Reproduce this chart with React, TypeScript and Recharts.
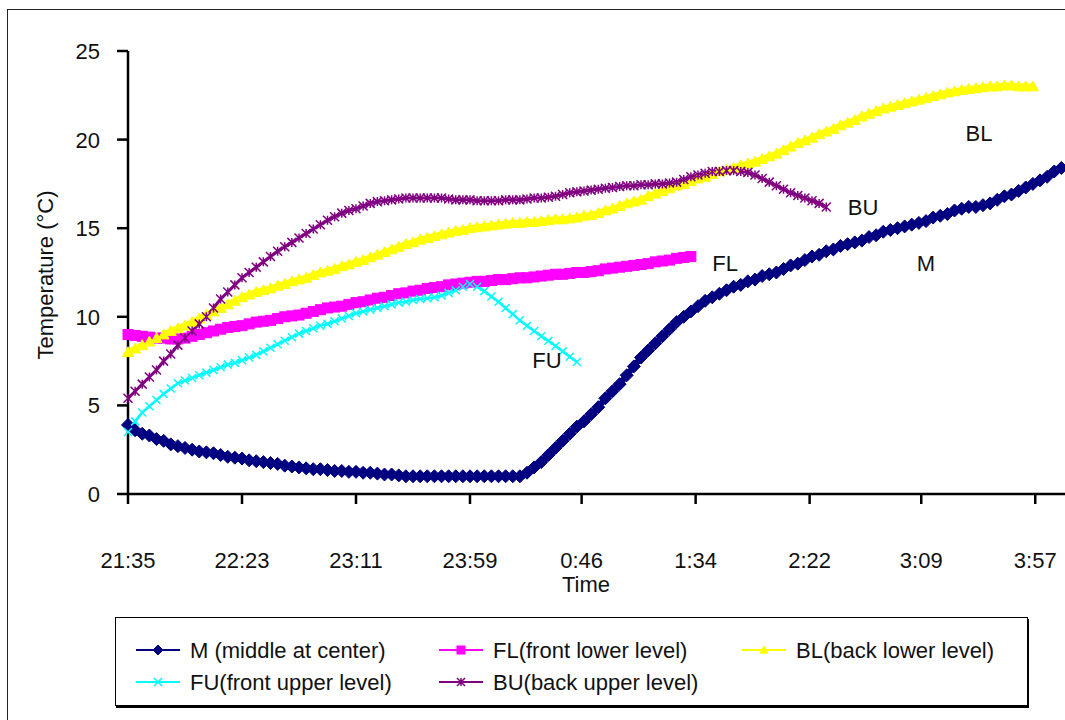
import React from "react";
import {
  LineChart,
  Line,
  XAxis,
  YAxis,
  Legend,
  ReferenceDot,
} from "recharts";

// readings are logged every 3 minutes from 21:35
const STEP_MIN = 3;

const tickLabels = ["21:35", "22:23", "23:11", "23:59", "0:46", "1:34", "2:22", "3:09", "3:57"];
const yTicks = [0, 5, 10, 15, 20, 25];

// M (middle at center)
const mTemp = [
  3.9, 3.6, 3.4, 3.3, 3.1, 3.0, 2.8, 2.7, 2.6, 2.5, 2.4, 2.35, 2.3, 2.2, 2.1, 2.05, 2.0, 1.9, 1.85, 1.8,
  1.75, 1.7, 1.6, 1.55, 1.5, 1.45, 1.4, 1.4, 1.35, 1.3, 1.3, 1.25, 1.25, 1.2, 1.2, 1.15, 1.1, 1.1, 1.05, 1.0,
  1.0, 1.0, 1.0, 1.0, 1.0, 1.0, 1.0, 1.0, 1.0, 1.0, 1.0, 1.0, 1.0, 1.0, 1.0, 1.0,
  1.2, 1.5, 1.8, 2.2, 2.6, 3.0, 3.4, 3.8, 4.1, 4.5, 4.9, 5.4, 5.8, 6.2, 6.7, 7.2, 7.7, 8.1, 8.5, 8.9,
  9.3, 9.7, 10.0, 10.3, 10.6, 10.9, 11.1, 11.3, 11.5, 11.7, 11.8, 12.0, 12.1, 12.3, 12.4, 12.5, 12.7, 12.9,
  13.0, 13.2, 13.4, 13.5, 13.7, 13.8, 14.0, 14.1, 14.2, 14.3, 14.5, 14.6, 14.8, 14.9, 15.0, 15.1, 15.2,
  15.3, 15.4, 15.6, 15.7, 15.8, 16.0, 16.1, 16.2, 16.2, 16.3, 16.4, 16.6, 16.8, 16.9, 17.1, 17.3, 17.5,
  17.7, 17.9, 18.2, 18.4,
];

// FL (front lower level)
const flTemp = [
  9.0, 8.95, 8.9, 8.85, 8.8, 8.8, 8.75, 8.75, 8.8, 8.9, 9.0, 9.1, 9.2, 9.3, 9.4, 9.45, 9.5, 9.6, 9.7, 9.75,
  9.8, 9.9, 10.0, 10.05, 10.1, 10.2, 10.3, 10.4, 10.5, 10.55, 10.6, 10.7, 10.8, 10.85, 10.95, 11.05, 11.1,
  11.2, 11.3, 11.35, 11.45, 11.5, 11.6, 11.65, 11.7, 11.8, 11.85, 11.9, 11.95, 12.0, 12.0, 12.05, 12.1,
  12.1, 12.15, 12.2, 12.2, 12.25, 12.3, 12.35, 12.4, 12.4, 12.45, 12.5, 12.5, 12.55, 12.6, 12.7, 12.75,
  12.8, 12.85, 12.9, 12.95, 13.0, 13.1, 13.15, 13.2, 13.3, 13.35, 13.4,
];

// BL (back lower level)
const blTemp = [
  8.0, 8.2, 8.4, 8.6, 8.8, 9.0, 9.2, 9.35, 9.5, 9.7, 9.9, 10.1, 10.3, 10.5, 10.7, 10.9, 11.1, 11.25, 11.4,
  11.5, 11.6, 11.75, 11.85, 12.0, 12.1, 12.2, 12.35, 12.5, 12.6, 12.7, 12.85, 12.95, 13.1, 13.2, 13.35,
  13.5, 13.65, 13.8, 13.95, 14.1, 14.2, 14.35, 14.45, 14.55, 14.65, 14.75, 14.85, 14.9, 15.0, 15.05, 15.1,
  15.15, 15.2, 15.25, 15.3, 15.3, 15.35, 15.35, 15.4, 15.45, 15.5, 15.5, 15.55, 15.6, 15.7, 15.75, 15.85,
  16.0, 16.1, 16.25, 16.4, 16.5, 16.6, 16.8, 16.95, 17.1, 17.25, 17.4, 17.5, 17.65, 17.8, 17.9, 18.05,
  18.2, 18.3, 18.4, 18.55, 18.65, 18.75, 18.9, 19.05, 19.2, 19.4, 19.6, 19.8, 19.95, 20.1, 20.3, 20.45,
  20.6, 20.8, 20.95, 21.1, 21.3, 21.45, 21.6, 21.75, 21.85, 21.95, 22.05, 22.15, 22.25, 22.35, 22.45, 22.55,
  22.65, 22.72, 22.8, 22.85, 22.9, 22.95, 23.0, 23.0, 23.05, 23.05, 23.0, 23.0, 23.0,
];

// FU (front upper level)
const fuTemp = [
  3.5, 4.1, 4.6, 4.95, 5.3, 5.65, 5.95, 6.25, 6.4, 6.55, 6.7, 6.85, 7.0, 7.15, 7.3, 7.4, 7.55, 7.7, 7.85,
  8.05, 8.25, 8.45, 8.65, 8.85, 9.05, 9.2, 9.35, 9.5, 9.6, 9.75, 9.9, 10.05, 10.2, 10.3, 10.4, 10.5, 10.6,
  10.7, 10.8, 10.85, 10.95, 11.0, 11.05, 11.1, 11.2, 11.35, 11.5, 11.7, 11.85, 11.7, 11.45, 11.15, 10.85,
  10.5, 10.15, 9.8, 9.5, 9.2, 8.9, 8.65, 8.35, 8.05, 7.75, 7.45,
];

// BU (back upper level)
const buTemp = [
  5.4, 5.8, 6.2, 6.6, 7.0, 7.5, 7.9, 8.4, 8.8, 9.2, 9.6, 10.0, 10.5, 11.0, 11.4, 11.8, 12.2, 12.5, 12.8,
  13.1, 13.4, 13.7, 13.95, 14.2, 14.45, 14.7, 14.95, 15.2, 15.45, 15.65, 15.85, 16.0, 16.1, 16.25, 16.4,
  16.5, 16.55, 16.6, 16.65, 16.7, 16.7, 16.7, 16.7, 16.7, 16.7, 16.65, 16.6, 16.6, 16.6, 16.55, 16.55,
  16.55, 16.55, 16.6, 16.6, 16.6, 16.65, 16.7, 16.7, 16.75, 16.8, 16.9, 17.0, 17.05, 17.1, 17.15, 17.2,
  17.25, 17.3, 17.35, 17.4, 17.4, 17.45, 17.45, 17.5, 17.5, 17.55, 17.6, 17.75, 17.9, 18.0, 18.1, 18.2,
  18.2, 18.25, 18.25, 18.2, 18.15, 18.0, 17.8, 17.6, 17.4, 17.2, 17.0, 16.85, 16.7, 16.55, 16.4, 16.2,
];

// text labels placed next to the curves: [label, minutes, °C]
const curveNotes: [string, number, number][] = [
  ["FU", 176.4, 7.56],
  ["FL", 251.4, 13.04],
  ["BU", 309.5, 16.2],
  ["M", 336, 13.04],
  ["BL", 358.3, 20.37],
];

type Shape = "diamond" | "square" | "triangle" | "cross" | "star";

const series: {
  key: string;
  name: string;
  color: string;
  shape: Shape;
  size: number;
  width: number;
  values: number[];
}[] = [
  { key: "M", name: "M (middle at center)", color: "#000080", shape: "diamond", size: 6.5, width: 6, values: mTemp },
  { key: "FL", name: "FL(front lower level)", color: "#FF00FF", shape: "square", size: 5, width: 8, values: flTemp },
  { key: "BL", name: "BL(back lower level)", color: "#FFFF00", shape: "triangle", size: 5.5, width: 6, values: blTemp },
  { key: "FU", name: "FU(front upper level)", color: "#00FFFF", shape: "cross", size: 4, width: 2.5, values: fuTemp },
  { key: "BU", name: "BU(back upper level)", color: "#800080", shape: "star", size: 4.5, width: 3, values: buTemp },
];

const FONT = '"Liberation Sans", Arial, sans-serif';

// "21:35" -> minutes after the first label, wrapping past midnight
const toMinutes = (label: string) => {
  const [h, m] = label.split(":").map(Number);
  const start = 21 * 60 + 35;
  let v = h * 60 + m - start;
  if (v < 0) v += 24 * 60;
  return v;
};
const tickMinutes = tickLabels.map(toMinutes);

const rowCount = Math.max(...series.map((s) => s.values.length));
const data = Array.from({ length: rowCount }, (_, i) => {
  const row: Record<string, number | undefined> = { t: i * STEP_MIN };
  series.forEach((s) => {
    row[s.key] = s.values[i];
  });
  return row;
});

function Marker({ shape, color, cx, cy, s }: { shape: Shape; color: string; cx: number; cy: number; s: number }) {
  switch (shape) {
    case "diamond":
      return (
        <polygon
          points={`${cx},${cy - s} ${cx + s},${cy} ${cx},${cy + s} ${cx - s},${cy}`}
          fill={color}
          stroke={color}
          strokeWidth={1}
        />
      );
    case "square":
      return <rect x={cx - s} y={cy - s} width={2 * s} height={2 * s} fill={color} stroke={color} strokeWidth={1} />;
    case "triangle":
      return (
        <polygon
          points={`${cx},${cy - s} ${cx + s},${cy + s * 0.8} ${cx - s},${cy + s * 0.8}`}
          fill={color}
          stroke={color}
          strokeWidth={1}
        />
      );
    case "cross":
      return (
        <path
          d={`M${cx - s},${cy - s}L${cx + s},${cy + s}M${cx - s},${cy + s}L${cx + s},${cy - s}`}
          stroke={color}
          strokeWidth={1.5}
          fill="none"
        />
      );
    case "star":
      return (
        <path
          d={`M${cx - s},${cy - s}L${cx + s},${cy + s}M${cx - s},${cy + s}L${cx + s},${cy - s}M${cx},${cy - s}L${cx},${cy + s}`}
          stroke={color}
          strokeWidth={1.5}
          fill="none"
        />
      );
  }
  return null;
}

const makeDot = (key: string, shape: Shape, color: string, s: number) => (props: any) => {
  const { cx, cy, index, value } = props;
  if (cx == null || cy == null || value == null) return <g key={`${key}-${index}`} />;
  return (
    <g key={`${key}-${index}`}>
      <Marker shape={shape} color={color} cx={cx} cy={cy} s={s} />
    </g>
  );
};

const XTick = ({ x, y, payload }: any) => {
  const idx = tickMinutes.indexOf(payload.value);
  return (
    <text x={x} y={y + 64} textAnchor="middle" fontFamily={FONT} fontSize={22} fill="#111">
      {idx >= 0 ? tickLabels[idx] : ""}
    </text>
  );
};

const YTick = ({ x, y, payload }: any) => (
  <text x={x - 17} y={y + 8} textAnchor="end" fontFamily={FONT} fontSize={22} fill="#111">
    {payload.value}
  </text>
);

const renderLegend = () => (
  <div
    style={{
      width: 913,
      height: 89,
      border: "1px solid #000",
      boxShadow: "1px 2px 0 #000",
      background: "#fff",
      boxSizing: "border-box",
    }}
  >
    <svg width={911} height={87}>
      {series.map((s, i) => {
        const col = i % 3;
        const row = Math.floor(i / 3);
        const lx = 20 + col * 303;
        const ly = 32 + row * 32;
        return (
          <g key={s.key}>
            <line x1={lx} x2={lx + 44} y1={ly} y2={ly} stroke={s.color} strokeWidth={2} />
            <Marker shape={s.shape} color={s.color} cx={lx + 22} cy={ly} s={s.shape === "diamond" ? 5 : 4} />
            <text x={lx + 54} y={ly + 8} fontFamily={FONT} fontSize={22} fill="#111">
              {s.name}
            </text>
          </g>
        );
      })}
    </svg>
  </div>
);

export default function App() {
  return (
    <div
      style={{
        position: "absolute",
        left: 0,
        top: 0,
        width: 1065,
        height: 720,
        overflow: "hidden",
        background: "#fff",
      }}
    >
      <div
        style={{
          position: "absolute",
          left: 7,
          top: 9,
          width: 1200,
          height: 800,
          border: "1.5px solid #222",
        }}
      />
      <div style={{ position: "absolute", left: 0, top: 0 }}>
        <LineChart width={1100} height={720} data={data} margin={{ top: 51, right: 22, bottom: 146, left: 68 }}>
          <XAxis
            dataKey="t"
            type="number"
            domain={[0, 400]}
            ticks={tickMinutes}
            interval={0}
            tick={<XTick />}
            tickSize={10}
            tickMargin={0}
            height={80}
            axisLine={{ stroke: "#000", strokeWidth: 2.5 }}
            tickLine={{ stroke: "#000", strokeWidth: 2.5 }}
            label={{
              content: () => (
                <text x={586} y={592} textAnchor="middle" fontFamily={FONT} fontSize={22} fill="#111">
                  Time
                </text>
              ),
            }}
          />
          <YAxis
            type="number"
            domain={[0, 25]}
            ticks={yTicks}
            interval={0}
            tick={<YTick />}
            tickSize={11}
            tickMargin={0}
            width={60}
            axisLine={{ stroke: "#000", strokeWidth: 2.5 }}
            tickLine={{ stroke: "#000", strokeWidth: 2.5 }}
            label={{
              content: () => (
                <text
                  x={53}
                  y={275}
                  transform="rotate(-90 53 275)"
                  textAnchor="middle"
                  fontFamily={FONT}
                  fontSize={22}
                  fill="#111"
                >
                  Temperature (°C)
                </text>
              ),
            }}
          />
          {series.map((s) => (
            <Line
              key={s.key}
              dataKey={s.key}
              name={s.name}
              type="linear"
              stroke={s.color}
              strokeWidth={s.width}
              dot={makeDot(s.key, s.shape, s.color, s.size)}
              activeDot={false}
              isAnimationActive={false}
              connectNulls={false}
            />
          ))}
          {curveNotes.map(([label, t, v]) => (
            <ReferenceDot
              key={label}
              x={t}
              y={v}
              r={1}
              fill="none"
              stroke="none"
              label={{ value: label, position: "center", fontSize: 22, fontFamily: FONT, fill: "#111" }}
            />
          ))}
          <Legend
            layout="horizontal"
            verticalAlign="middle"
            align="center"
            content={renderLegend}
            wrapperStyle={{ left: 115, top: 617, width: 913, height: 89 }}
          />
        </LineChart>
      </div>
    </div>
  );
}
